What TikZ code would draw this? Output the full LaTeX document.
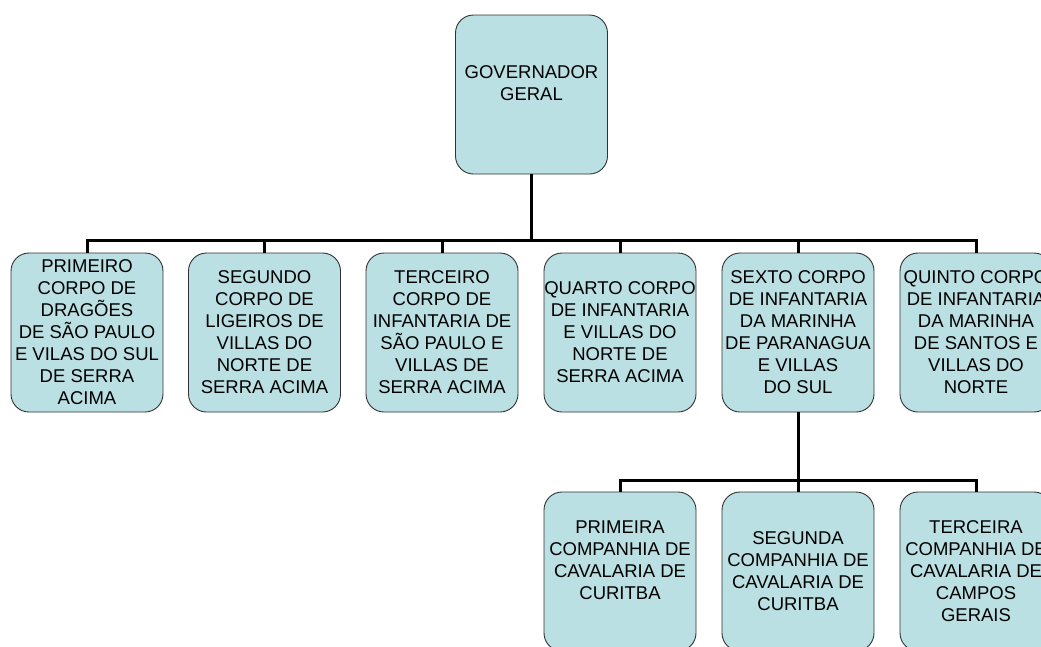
\documentclass[tikz,border=0pt]{standalone}
\usepackage{fontspec}
\setmainfont{Liberation Sans}
\definecolor{boxfill}{RGB}{187,224,227}
\definecolor{boxline}{RGB}{50,50,50}
\begin{document}
\begin{tikzpicture}[x=1pt,y=-1pt,
  orgbox/.style={draw=boxline, line width=0.9pt, fill=boxfill, rounded corners=18pt,
    minimum width=152pt, minimum height=159pt, inner sep=0pt, align=center,
    font=\fontsize{18.5}{22}\selectfont},
  conn/.style={line width=3pt, black}]
\clip (0,0) rectangle (1041,646);
\fill[white] (0,0) rectangle (1041,646);
% top
\node[orgbox] (gov) at (531.5,94.5) {GOVERNADOR\\GERAL\\\mbox{}};
% row 1
\node[orgbox] (b1) at (87,332.5) {PRIMEIRO\\CORPO DE\\DRAGÕES\\DE SÃO PAULO\\E VILAS DO SUL\\DE SERRA\\ACIMA};
\node[orgbox] (b2) at (264.5,332.5) {SEGUNDO\\CORPO DE\\LIGEIROS DE\\VILLAS DO\\NORTE DE\\SERRA ACIMA};
\node[orgbox] (b3) at (442,332.5) {TERCEIRO\\CORPO DE\\INFANTARIA DE\\SÃO PAULO E\\VILLAS DE\\SERRA ACIMA};
\node[orgbox] (b4) at (620,332.5) {QUARTO CORPO\\DE INFANTARIA\\E VILLAS DO\\NORTE DE\\SERRA ACIMA};
\node[orgbox] (b5) at (798,332.5) {SEXTO CORPO\\DE INFANTARIA\\DA MARINHA\\DE PARANAGUA\\E VILLAS\\DO SUL};
\node[orgbox] (b6) at (976,332.5) {QUINTO CORPO\\DE INFANTARIA\\DA MARINHA\\DE SANTOS E\\VILLAS DO\\NORTE};
% row 2
\node[orgbox] (c1) at (620,571.5) {PRIMEIRA\\COMPANHIA DE\\CAVALARIA DE\\CURITBA\\\mbox{}};
\node[orgbox] (c2) at (798,571.5) {SEGUNDA\\COMPANHIA DE\\CAVALARIA DE\\CURITBA};
\node[orgbox] (c3) at (976,571.5) {TERCEIRA\\COMPANHIA DE\\CAVALARIA DE\\CAMPOS\\GERAIS};
% buses
\coordinate (bus1) at (0,240.5);
\coordinate (bus2) at (0,480);
\draw[conn] (gov.south) -- (gov.south |- bus1);
\draw[conn] (b1.north) -- (b1.north |- bus1) -- (b6.north |- bus1) -- (b6.north);
\foreach \n in {b2,b3,b4,b5} \draw[conn] (\n.north) -- (\n.north |- bus1);
\draw[conn] (b5.south) -- (b5.south |- bus2);
\draw[conn] (c1.north) -- (c1.north |- bus2) -- (c3.north |- bus2) -- (c3.north);
\draw[conn] (c2.north) -- (c2.north |- bus2);
\end{tikzpicture}
\end{document}
